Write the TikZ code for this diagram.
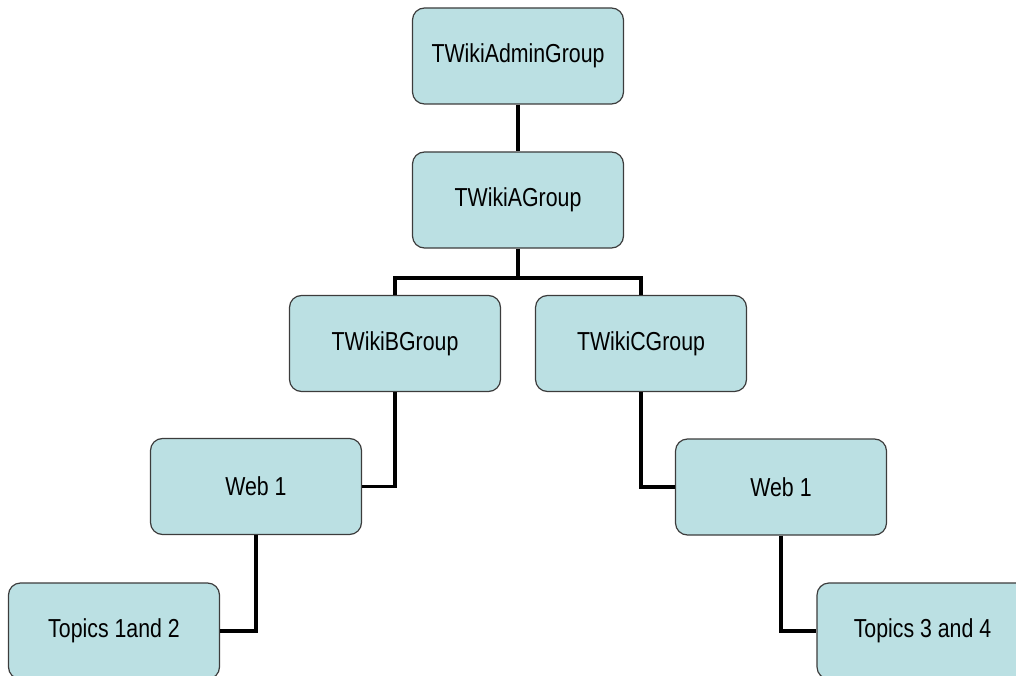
\documentclass[tikz,border=0pt]{standalone}
\usepackage{fontspec}
\newfontfamily\boxfont[FakeStretch=0.82]{Liberation Sans}
\definecolor{boxfill}{RGB}{187,224,227}
\definecolor{boxline}{RGB}{60,60,60}
\begin{document}
\begin{tikzpicture}[x=1pt,y=-1pt,
  grp/.style={draw=boxline, fill=boxfill, line width=1.2pt, rounded corners=12pt,
    minimum width=211pt, minimum height=96pt, inner sep=0pt,
    font=\boxfont\fontsize{26}{30}\selectfont},
  link/.style={draw=black, line width=3.5pt}]
\clip (0,0) rectangle (1016,676);
\node[grp] (admin) at (518,56) {TWikiAdminGroup};
\node[grp] (a) at (518,200) {TWikiAGroup};
\node[grp] (b) at (395,343.5) {TWikiBGroup};
\node[grp] (c) at (641,343.5) {TWikiCGroup};
\node[grp] (wl) at (256,486.5) {Web 1};
\node[grp] (wr) at (781,487) {Web 1};
\node[grp] (t12) at (114,631) {Topics 1and 2};
\node[grp] (t34) at (922.5,631) {Topics 3 and 4};
\coordinate (j) at (518,278);
\draw[link] (admin.south) -- (a.north);
\draw[link] (a.south) -- (j);
\draw[link] (b.north) |- (j) -| (c.north);
\draw[link] (b.south) |- (wl.east);
\draw[link] (wl.south) |- (t12.east);
\draw[link] (c.south) |- (wr.west);
\draw[link] (wr.south) |- (t34.west);
\end{tikzpicture}
\end{document}
